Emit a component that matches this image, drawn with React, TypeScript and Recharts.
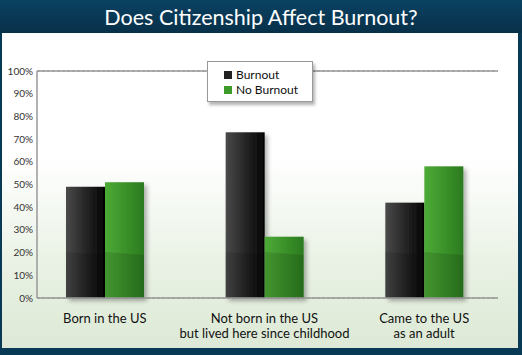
import React from 'react';
import { BarChart, Bar, XAxis, YAxis, CartesianGrid, Legend, ReferenceLine } from 'recharts';

const categories = ['Born in the US', 'Not born in the US\nbut lived here since childhood', 'Came to the US\nas an adult'];
const burnout = [49, 73, 42];
const noBurnout = [51, 27, 58];
const yTicks = [0, 10, 20, 30, 40, 50, 60, 70, 80, 90, 100];

const data = categories.map((c, i) => ({ category: c, burnout: burnout[i], noBurnout: noBurnout[i] }));

const FONT = 'Lato, "Open Sans", sans-serif';

function GlossBar(props: any) {
  const { x, y, width, height, grad } = props;
  if (!height || height <= 0) return null;
  const bottom = y + height;
  const glossTop = Math.max(y, bottom - 46);
  return (
    <g>
      <rect x={x} y={y} width={width} height={height} fill={grad} filter="url(#barShadow)" />
      <polygon
        points={`${x},${glossTop} ${x + width},${Math.max(y, glossTop + 3)} ${x + width},${bottom} ${x},${bottom}`}
        fill="rgba(0,0,0,0.12)"
      />
    </g>
  );
}

function CategoryTick(props: any) {
  const { x, y, payload } = props;
  const lines = String(payload.value).split('\n');
  return (
    <text x={x} y={y} textAnchor="middle" fill="#111" fontSize={13} fontFamily={FONT}>
      {lines.map((l, i) => (
        <tspan key={i} x={x} dy={i === 0 ? 17 : 15}>{l}</tspan>
      ))}
    </text>
  );
}

function LegendBox() {
  const items = [
    { label: 'Burnout', color: '#222' },
    { label: 'No Burnout', color: '#3f9a2c' },
  ];
  return (
    <div
      style={{
        width: 106,
        height: 41,
        background: '#fff',
        border: '1px solid #999',
        boxShadow: '2px 3px 3px rgba(0,0,0,0.3)',
        fontFamily: FONT,
        fontSize: 12,
        color: '#111',
        paddingTop: 5,
        boxSizing: 'border-box',
      }}
    >
      {items.map((it) => (
        <div key={it.label} style={{ display: 'flex', alignItems: 'center', height: 15, paddingLeft: 16 }}>
          <span style={{ width: 8, height: 8, background: it.color, marginRight: 4, display: 'inline-block' }} />
          {it.label}
        </div>
      ))}
    </div>
  );
}

export default function App() {
  return (
    <div style={{ position: 'absolute', left: 0, top: 0, width: 522, height: 355, background: '#083a56', overflow: 'hidden' }}>
      <div
        style={{
          position: 'absolute', left: 0, top: 0, width: 522, height: 33,
          background: 'linear-gradient(#0a4262, #083049)',
          color: '#fff', fontFamily: FONT, fontSize: 21.5, textAlign: 'center', lineHeight: '34px',
        }}
      >
        Does Citizenship Affect Burnout?
      </div>
      <div
        style={{
          position: 'absolute', left: 2, top: 33, width: 516, height: 315,
          background: 'linear-gradient(#ffffff 0%, #ffffff 40%, #e8f1e3 75%, #dde9d6 100%)',
        }}
      />
      <div style={{ position: 'absolute', left: 0, top: 0 }}>
        <BarChart
          width={522}
          height={355}
          data={data}
          margin={{ top: 71, right: 24, bottom: 17, left: 0 }}
          barGap={0}
          barSize={39}
        >
          <defs>
            <linearGradient id="gBlack" x1="0" y1="0" x2="1" y2="0">
              <stop offset="0%" stopColor="#4a4a4a" />
              <stop offset="100%" stopColor="#030303" />
            </linearGradient>
            <linearGradient id="gGreen" x1="0" y1="0" x2="1" y2="0">
              <stop offset="0%" stopColor="#4dab36" />
              <stop offset="100%" stopColor="#2b7a1f" />
            </linearGradient>
            <filter id="barShadow" x="-20%" y="-10%" width="150%" height="130%">
              <feDropShadow dx="3" dy="3" stdDeviation="2" floodColor="#000" floodOpacity="0.3" />
            </filter>
          </defs>
          <CartesianGrid vertical={false} stroke="#999" strokeDasharray="3 2" />
          <XAxis
            dataKey="category"
            height={40}
            padding={{ left: -12, right: -6 }}
            axisLine={{ stroke: '#999', strokeWidth: 1.5 }}
            tickLine={false}
            tick={<CategoryTick />}
            interval={0}
          />
          <YAxis
            yAxisId="left"
            domain={[0, 100]}
            ticks={yTicks}
            width={37}
            tickFormatter={(v: number) => `${v}%`}
            tickLine={false}
            tickSize={0}
            tickMargin={4}
            axisLine={{ stroke: '#999', strokeWidth: 1.5 }}
            tick={{ fill: '#333', fontSize: 10, fontFamily: FONT }}
          />
          <YAxis
            yAxisId="right"
            orientation="right"
            domain={[0, 100]}
            width={0}
            tick={false}
            tickLine={false}
            axisLine={{ stroke: '#999', strokeWidth: 1.5 }}
          />
          <ReferenceLine yAxisId="left" y={100} stroke="#999" strokeWidth={1.5} />
          <Legend
            verticalAlign="middle"
            align="center"
            content={() => <LegendBox />}
            wrapperStyle={{ position: 'absolute', left: 207, top: 61, width: 106 }}
          />
          <Bar yAxisId="left" dataKey="burnout" name="Burnout" isAnimationActive={false} shape={(p: any) => <GlossBar {...p} grad="url(#gBlack)" />} />
          <Bar yAxisId="left" dataKey="noBurnout" name="No Burnout" isAnimationActive={false} shape={(p: any) => <GlossBar {...p} grad="url(#gGreen)" />} />
        </BarChart>
      </div>
    </div>
  );
}
